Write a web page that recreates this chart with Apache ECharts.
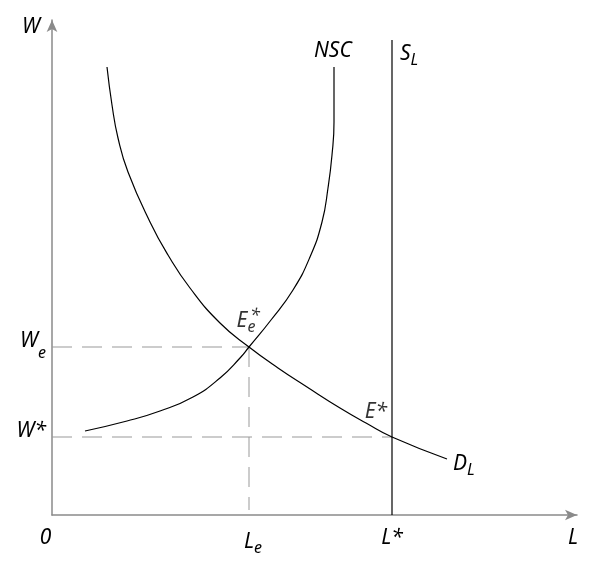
<!DOCTYPE html>
<html>
<head>
<meta charset="utf-8">
<script src="https://cdn.jsdelivr.net/npm/echarts@6/dist/echarts.min.js"></script>
<style>html,body{margin:0;padding:0;background:#fff}#c{width:600px;height:567px}</style>
</head>
<body>
<div id="c"></div>
<script>
// ---- data (abstract units) ----
const Le = 197, We = 168, Lstar = 340, Wstar = 78;
const xMax = 525, yMax = 495;
const demandL = [55, 60, 66, 76, 98, 116, 138, 168, 197, 226, 255, 288, 314, 340, 395];
const demandW = [448, 410, 377, 343, 293, 260, 227, 192, 168, 147, 128, 107, 92, 78, 56];
const nscL = [33, 75, 108, 141, 168, 188, 197, 219, 241, 258, 270, 276, 280, 282, 282];
const nscW = [84, 94, 104, 118, 137, 157, 168, 195, 225, 258, 293, 327, 360, 393, 448];
const supplyTopW = 475;
const xTickValues = [0, Le, Lstar, 521];
const xTickLabels = ['{z|0}', '{le|L}{s|e}', '{m|L*}', '{m|L}'];
const yTickValues = [Wstar, We, 488];
const yTickLabels = ['{my|W*}', '{my|W}{s|e}', '{w|W}'];

const FONT = 'Noto Sans';
const base = {fontSize: 21, fontStyle: 'italic', fontFamily: FONT, color: '#000'};
const rich = {
  m: Object.assign({}, base),
  my: Object.assign({}, base, {padding: [0, 0, 11, 0]}),
  le: Object.assign({}, base, {padding: [0, 0, 0, 8]}),
  z: Object.assign({}, base, {padding: [0, 13, 0, 0]}),
  w: Object.assign({}, base, {padding: [0, 6, 0, 0]}),
  s: Object.assign({}, base, {fontSize: 16, padding: [12, 0, 0, 0]}),
  st: Object.assign({}, base, {fontSize: 18})
};
const zip = (a, b) => a.map((v, i) => [v, b[i]]);

const demand = zip(demandL, demandW);
const nsc = zip(nscL, nscW);
const supply = [[Lstar, 0], [Lstar, supplyTopW]];

const axisLineStyle = {color: '#8a8a8a', width: 1.5};
const dashStyle = {color: '#999', width: 1, type: [20, 10]};

const option = {
  animation: false,
  grid: {left: 52, top: 20, width: 525, height: 495, containLabel: false},
  xAxis: {
    type: 'value', min: 0, max: xMax,
    splitLine: {show: false}, axisTick: {show: false},
    axisLine: {show: true, lineStyle: axisLineStyle, symbol: ['none', 'arrow'], symbolSize: [8, 12]},
    axisLabel: {
      customValues: xTickValues, margin: 13, rich: rich,
      formatter: v => xTickLabels[xTickValues.indexOf(v)] || ''
    }
  },
  yAxis: {
    type: 'value', min: 0, max: yMax,
    splitLine: {show: false}, axisTick: {show: false},
    axisLine: {show: true, lineStyle: axisLineStyle, symbol: ['none', 'arrow'], symbolSize: [8, 12]},
    axisLabel: {
      customValues: yTickValues, margin: 6, rich: rich,
      formatter: v => yTickLabels[yTickValues.indexOf(v)] || ''
    }
  },
  series: [
    {type: 'line', data: [[0, We], [Le, We]], symbol: 'none', lineStyle: dashStyle, silent: true},
    {type: 'line', data: [[Le, We], [Le, 5]], symbol: 'none', lineStyle: dashStyle, silent: true},
    {type: 'line', data: [[0, Wstar], [Lstar, Wstar]], symbol: 'none', lineStyle: dashStyle, silent: true},
    {
      type: 'line', data: supply, symbol: 'none', lineStyle: {color: '#000', width: 1.2},
      endLabel: {show: true, formatter: '{m|S}{s|L}', rich: rich, distance: 8, offset: [0, 14]}
    },
    {
      type: 'line', data: nsc, smooth: true, symbol: 'none', lineStyle: {color: '#000', width: 1.2},
      endLabel: {show: true, formatter: '{m|NSC}', rich: rich, distance: 0, offset: [-20, -16]}
    },
    {
      type: 'line', data: demand, smooth: true, symbol: 'none', lineStyle: {color: '#000', width: 1.2},
      endLabel: {show: true, formatter: '{m|D}{s|L}', rich: rich, distance: 6, offset: [0, 5]}
    },
    {
      type: 'scatter', symbolSize: 0, silent: true,
      data: [
        {value: [Le, We], label: {show: true, position: 'top', distance: 12, offset: [-3, 0], formatter: '{m|E}{s|e}', rich: rich}},
        {value: [Le, We], label: {show: true, position: 'top', distance: 22, offset: [6, 0], formatter: '{st|*}', rich: rich}},
        {value: [Lstar, Wstar], label: {show: true, position: 'top', distance: 14, offset: [-16, 0], formatter: '{m|E*}', rich: rich}}
      ]
    }
  ]
};
const chart = echarts.init(document.getElementById('c'));
chart.setOption(option);
</script>
</body>
</html>
